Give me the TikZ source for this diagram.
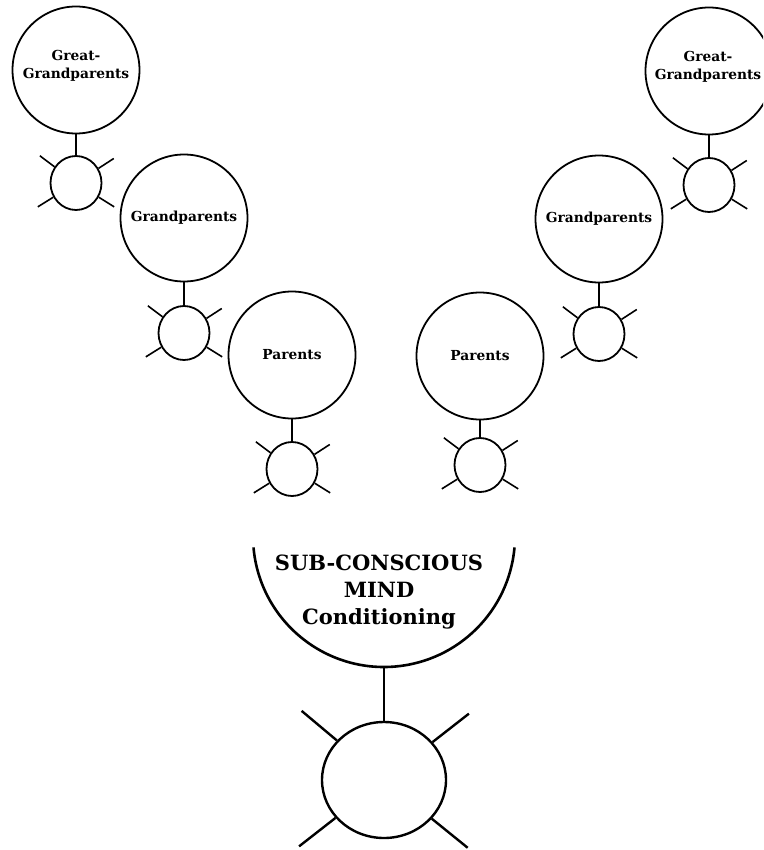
\documentclass[tikz,border=0pt]{standalone}
\usepackage{fontspec}
\setmainfont{DejaVu Serif}
\usetikzlibrary{shapes.geometric,calc}
\begin{document}
\begin{tikzpicture}[x=1pt,y=-1pt,
  big/.style={circle,draw,line width=1.8pt,minimum size=127pt,inner sep=0pt,
    font=\bfseries\fontsize{13.8}{18}\selectfont,align=center},
  small/.style={ellipse,draw,line width=1.8pt,minimum width=51pt,minimum height=54pt,inner sep=0pt},
  huge/.style={ellipse,draw,line width=2.4pt,minimum width=124pt,minimum height=116pt,inner sep=0pt},
  link/.style={line width=2pt},
  leg/.style={line width=1.6pt},
  bigleg/.style={line width=2.4pt},
  bowl/.style={line width=2.6pt},
  ggtext/.style={font=\bfseries\fontsize{13.8}{18}\selectfont,align=center},
  mindtext/.style={font=\bfseries\fontsize{21}{27}\selectfont,align=center}]
\useasboundingbox (0,0) rectangle (763,850);
\clip (0,0) rectangle (763,850);
% left column
\node[big] (GGL) at (76,70) {};
\node[ggtext] (GGLt) at (76,66) {Great-\\Grandparents};
\node[small] (s1) at (76,183) {};
\node[big] (GL) at (184,218) {Grandparents};
\node[small] (s2) at (184,333) {};
\node[big] (PL) at (292,355) {Parents};
\node[small] (s3) at (292,469) {};
% right column
\node[big] (GGR) at (709,71) {};
\node[ggtext] (GGRt) at (708,67) {Great-\\Grandparents};
\node[small] (s4) at (709,185) {};
\node[big] (GR) at (599,219) {Grandparents};
\node[small] (s5) at (599,334) {};
\node[big] (PR) at (480,356) {Parents};
\node[small] (s6) at (480,465) {};
% connectors
\draw[link] (GGL.south) -- (s1.north);
\draw[link] (GL.south) -- (s2.north);
\draw[link] (PL.south) -- (s3.north);
\draw[link] (GGR.south) -- (s4.north);
\draw[link] (GR.south) -- (s5.north);
\draw[link] (PR.south) -- (s6.north);
% legs of small figures
\foreach \n in {s1,s2,s3,s4,s5,s6}
  \foreach \a in {143,33,212,328}
    \draw[leg] (\n.\a) -- ($(\n.center)!1.68!(\n.\a)$);
% bowl
\coordinate (bowlc) at (384,536);
\draw[bowl] (bowlc) ++(175:131) arc[start angle=175,end angle=5,radius=131];
\coordinate (bowlbot) at (384,667);
\node[mindtext] (mind) at (379,592) {SUB-CONSCIOUS\\MIND\\Conditioning};
% big figure
\node[huge] (B) at (384,780) {};
\draw[bowl] (bowlbot) -- (B.north);
\foreach \a in {140,38,218,321}
  \draw[bigleg] (B.\a) -- ($(B.center)!1.75!(B.\a)$);
\end{tikzpicture}
\end{document}
